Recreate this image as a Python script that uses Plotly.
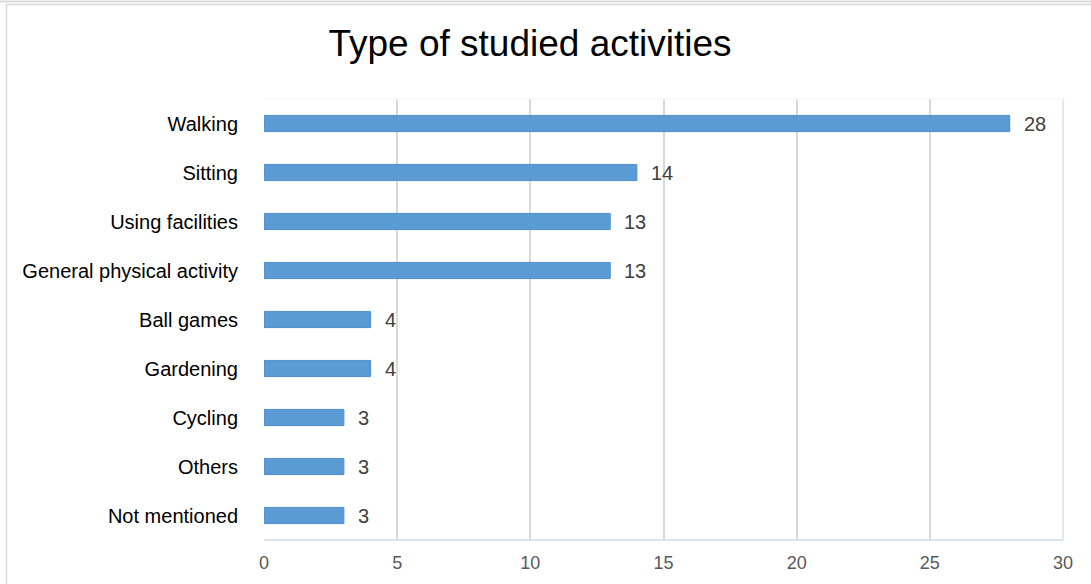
import plotly.graph_objects as go

# Activity categories and the number of studies covering each
activities = [
    "Walking",
    "Sitting",
    "Using facilities",
    "General physical activity",
    "Ball games",
    "Gardening",
    "Cycling",
    "Others",
    "Not mentioned",
]
counts = [28, 14, 13, 13, 4, 4, 3, 3, 3]
x_ticks = [0, 5, 10, 15, 20, 25, 30]

W, H = 1091, 584
L, R, T, B = 264, 28, 99, 44
FONT = "Liberation Sans, Arial, sans-serif"
BAR = "#5B9BD5"
pw, ph = W - L - R, H - T - B


def px_x(p):
    """Figure pixel column -> paper x."""
    return (p - L) / pw


def px_y(p):
    """Figure pixel row (from top) -> paper y."""
    return (H - B - p) / ph


fig = go.Figure(
    go.Bar(
        x=counts,
        y=activities,
        orientation="h",
        marker=dict(color=BAR, line=dict(color="#4F8FCB", width=1)),
        hoverinfo="x+y",
    )
)

# value labels beside each bar
for a, c in zip(activities, counts):
    fig.add_annotation(
        x=c, y=a, xref="x", yref="y",
        text=str(c), showarrow=False,
        xanchor="left", yanchor="middle", xshift=12,
        font=dict(family=FONT, size=20, color="#404040"),
    )

# plot frame: pale blue bottom/right edges, faint top
fig.add_shape(type="line", xref="paper", yref="paper", x0=0, x1=1, y0=0, y1=0,
              line=dict(color="#CFDDEE", width=1.5))
fig.add_shape(type="line", xref="paper", yref="paper", x0=1, x1=1, y0=0, y1=1,
              line=dict(color="#D6E3F1", width=1.5))
fig.add_shape(type="line", xref="paper", yref="paper", x0=0, x1=1, y0=1, y1=1,
              line=dict(color="#EEF2F8", width=1))

# outer chart border
fig.add_shape(type="rect", xref="paper", yref="paper",
              x0=px_x(6.5), x1=px_x(W + 5), y0=px_y(H + 5), y1=px_y(4.5),
              line=dict(color="#D9D9D9", width=1.5))
fig.add_shape(type="line", xref="paper", yref="paper",
              x0=px_x(0), x1=px_x(W), y0=px_y(1.5), y1=px_y(1.5),
              line=dict(color="#DADADA", width=2))

fig.update_layout(
    width=W, height=H,
    margin=dict(l=L, r=R, t=T, b=B),
    paper_bgcolor="white",
    plot_bgcolor="white",
    bargap=0.67,
    showlegend=False,
    title=dict(
        text="Type of studied activities",
        x=530 / W, xanchor="center",
        y=1 - 43 / H, yanchor="middle",
        font=dict(family=FONT, size=37, color="black"),
    ),
    xaxis=dict(
        range=[0, 30],
        tickvals=x_ticks,
        showgrid=True, gridcolor="#D9D9D9", gridwidth=1.5,
        zeroline=False, showline=False,
        ticks="", ticklabelstandoff=10,
        tickfont=dict(family=FONT, size=18, color="#595959"),
    ),
    yaxis=dict(
        autorange="reversed",
        showgrid=False, zeroline=False, showline=False,
        ticks="", ticklabelstandoff=25,
        tickfont=dict(family=FONT, size=20, color="black"),
    ),
)

fig.write_html("out.html")
